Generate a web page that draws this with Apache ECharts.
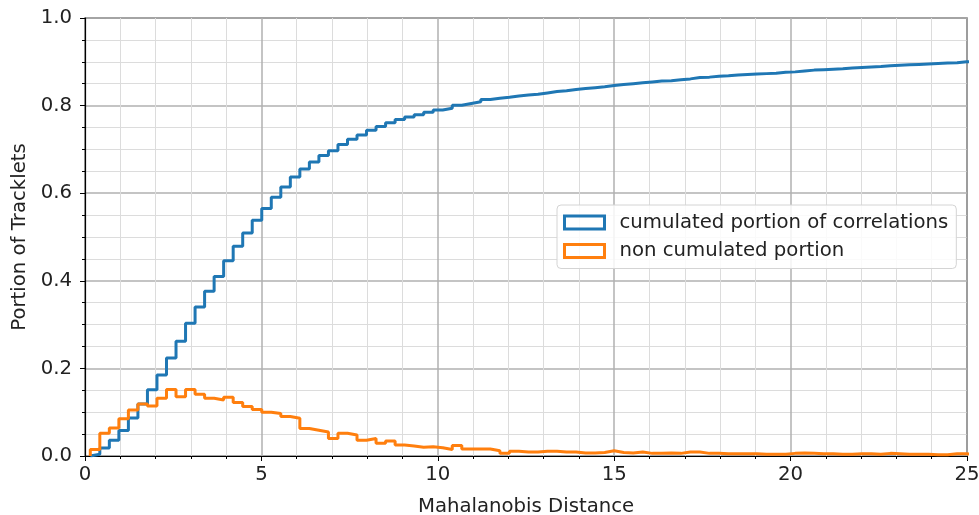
<!DOCTYPE html>
<html>
<head>
<meta charset="utf-8">
<script src="https://cdn.jsdelivr.net/npm/echarts@6/dist/echarts.min.js"></script>
<style>
  html, body { margin: 0; padding: 0; background: #fff; }
  #chart { width: 979px; height: 515px; }
</style>
</head>
<body>
<div id="chart"></div>
<script>
// histogram bins (Mahalanobis distance)
const binStart = 0.15;
const binWidth = 0.27;

// cumulated portion of correlations, one value per bin
const cumulated = [
  0.004, 0.018, 0.036, 0.058, 0.087, 0.119, 0.151, 0.185, 0.224, 0.262,
  0.303, 0.340, 0.376, 0.410, 0.446, 0.479, 0.509, 0.538, 0.565, 0.591,
  0.614, 0.637, 0.655, 0.671, 0.686, 0.697, 0.711, 0.723, 0.733, 0.744,
  0.752, 0.761, 0.768, 0.774, 0.779, 0.785, 0.790, 0.794, 0.801, 0.805,
  0.809, 0.814, 0.817, 0.819, 0.822, 0.824, 0.826, 0.829, 0.832, 0.834,
  0.837, 0.839, 0.841, 0.843, 0.846, 0.848, 0.850, 0.852, 0.854, 0.856,
  0.857, 0.859, 0.861, 0.864, 0.865, 0.867, 0.868, 0.870, 0.871, 0.872,
  0.873, 0.874, 0.876, 0.877, 0.879, 0.881, 0.882, 0.883, 0.884, 0.886,
  0.887, 0.888, 0.889, 0.891, 0.892, 0.893, 0.894, 0.895, 0.896, 0.897,
  0.898, 0.900, 0.901
];

// non cumulated portion (density), one value per bin
const nonCumulated = [
  0.015, 0.052, 0.064, 0.085, 0.105, 0.119, 0.114, 0.132, 0.152, 0.135,
  0.152, 0.141, 0.132, 0.128, 0.134, 0.122, 0.113, 0.106, 0.100, 0.097,
  0.090, 0.086, 0.063, 0.059, 0.055, 0.040, 0.052, 0.048, 0.036, 0.040,
  0.029, 0.034, 0.025, 0.023, 0.020, 0.021, 0.019, 0.015, 0.024, 0.016,
  0.016, 0.016, 0.012, 0.006, 0.011, 0.009, 0.009, 0.011, 0.011, 0.009,
  0.009, 0.007, 0.007, 0.008, 0.012, 0.008, 0.007, 0.009, 0.006, 0.006,
  0.007, 0.006, 0.009, 0.009, 0.006, 0.006, 0.005, 0.005, 0.005, 0.005,
  0.004, 0.004, 0.004, 0.006, 0.007, 0.006, 0.005, 0.005, 0.004, 0.004,
  0.005, 0.005, 0.004, 0.006, 0.005, 0.004, 0.004, 0.004, 0.003, 0.003,
  0.005, 0.005, 0.004
];

// step outline like a matplotlib 'step' histogram
function stepPoints(values) {
  const pts = [[binStart, 0]];
  values.forEach((v, i) => pts.push([binStart + i * binWidth, v]));
  const last = binStart + values.length * binWidth;
  pts.push([last, values[values.length - 1]]);
  pts.push([last, 0]);
  return pts;
}

const font = 'DejaVu Sans';
const fs = 19.7;
const chart = echarts.init(document.getElementById('chart'));

chart.setOption({
  animation: false,
  backgroundColor: '#fff',
  textStyle: { fontFamily: font },
  grid: {
    left: 85, right: 12, top: 18, bottom: 59,
    containLabel: false,
    outerBoundsMode: 'none',
    show: true, borderColor: '#000', borderWidth: 1.2, backgroundColor: 'transparent'
  },
  legend: {
    left: 557, top: 205,
    orient: 'vertical',
    padding: [7, 8, 7, 6],
    itemGap: 7.5,
    itemWidth: 40,
    itemHeight: 13,
    icon: 'rect',
    backgroundColor: 'rgba(255,255,255,0.85)',
    borderColor: '#d4d4d4',
    borderWidth: 1,
    borderRadius: 4,
    textStyle: { fontFamily: font, fontSize: fs, lineHeight: 21, color: '#222', padding: [0, 0, 0, 10] },
    data: [
      { name: 'cumulated portion of correlations',
        itemStyle: { color: 'transparent', borderColor: '#1f77b4', borderWidth: 3 } },
      { name: 'non cumulated portion',
        itemStyle: { color: 'transparent', borderColor: '#ff7f0e', borderWidth: 3 } }
    ]
  },
  xAxis: {
    type: 'value',
    min: 0, max: 25, interval: 5,
    name: 'Mahalanobis Distance',
    nameLocation: 'middle',
    nameGap: 41,
    nameTextStyle: { fontFamily: font, fontSize: fs, color: '#222' },
    axisLine: { show: true, lineStyle: { color: '#000', width: 1.2 } },
    axisTick: { show: true, length: 5, lineStyle: { color: '#000' } },
    minorTick: { show: true, splitNumber: 5, length: 3, lineStyle: { color: '#000' } },
    axisLabel: { fontFamily: font, fontSize: fs, color: '#222', margin: 9 },
    splitLine: { show: true, lineStyle: { color: '#b0b0b0', width: 1.5 } },
    minorSplitLine: { show: true, lineStyle: { color: '#dcdcdc', width: 1 } }
  },
  yAxis: {
    type: 'value',
    min: 0, max: 1, interval: 0.2,
    name: 'Portion of Tracklets',
    nameLocation: 'middle',
    nameGap: 49,
    nameTextStyle: { fontFamily: font, fontSize: fs, color: '#222' },
    axisLine: { show: true, lineStyle: { color: '#000', width: 1.2 } },
    axisTick: { show: true, length: 5, lineStyle: { color: '#000' } },
    minorTick: { show: true, splitNumber: 4, length: 3, lineStyle: { color: '#000' } },
    axisLabel: { fontFamily: font, fontSize: fs, color: '#222', margin: 13,
      formatter: v => v.toFixed(1) },
    splitLine: { show: true, lineStyle: { color: '#b0b0b0', width: 1.5 } },
    minorSplitLine: { show: true, lineStyle: { color: '#dcdcdc', width: 1 } }
  },
  series: [
    {
      name: 'cumulated portion of correlations',
      type: 'line',
      step: 'end',
      symbol: 'none',
      clip: true,
      data: stepPoints(cumulated),
      lineStyle: { color: '#1f77b4', width: 3 },
      itemStyle: { color: '#1f77b4' }
    },
    {
      name: 'non cumulated portion',
      type: 'line',
      step: 'end',
      symbol: 'none',
      clip: true,
      data: stepPoints(nonCumulated),
      lineStyle: { color: '#ff7f0e', width: 3 },
      itemStyle: { color: '#ff7f0e' }
    }
  ]
});
</script>
</body>
</html>
